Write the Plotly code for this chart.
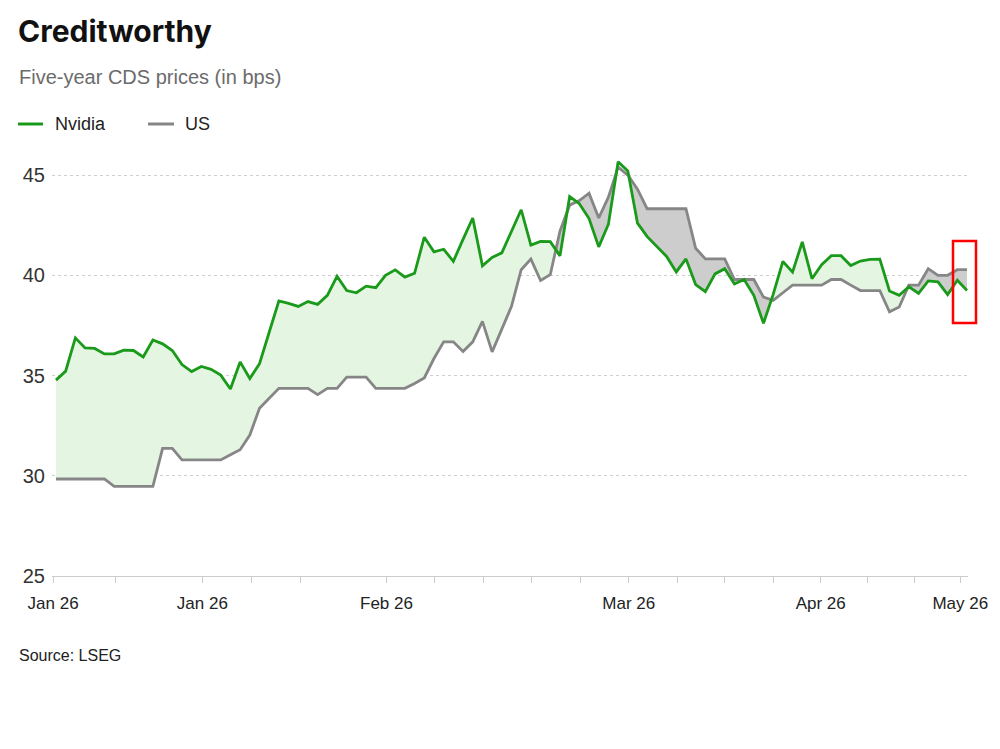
import numpy as np
import plotly.graph_objects as go

# ---- data ----
nvidia = [34.77, 35.22, 36.88, 36.38, 36.35, 36.08, 36.08, 36.27, 36.25, 35.93,
          36.77, 36.58, 36.25, 35.55, 35.20, 35.45, 35.31, 35.02, 34.33, 35.68,
          34.85, 35.59, 37.16, 38.72, 38.60, 38.45, 38.69, 38.55, 39.00, 39.95,
          39.24, 39.13, 39.46, 39.38, 40.00, 40.27, 39.91, 40.10, 41.90, 41.17,
          41.30, 40.70, 41.79, 42.86, 40.47, 40.89, 41.12, 42.17, 43.27, 41.51,
          41.69, 41.68, 40.97, 43.93, 43.57, 42.83, 41.42, 42.55, 45.66, 45.21,
          42.60, 41.93, 41.43, 40.94, 40.17, 40.82, 39.54, 39.18, 40.07, 40.33,
          39.57, 39.79, 39.00, 37.61, 39.05, 40.69, 40.16, 41.67, 39.83, 40.53,
          40.98, 40.98, 40.49, 40.71, 40.79, 40.81, 39.22, 39.00, 39.43, 39.10,
          39.72, 39.67, 39.04, 39.75, 39.24]
us = [29.84, 29.84, 29.84, 29.84, 29.84, 29.84, 29.47, 29.47, 29.47, 29.47,
      29.47, 31.37, 31.37, 30.79, 30.79, 30.79, 30.79, 30.79, 31.05, 31.30,
      32.03, 33.37, 33.87, 34.36, 34.36, 34.36, 34.36, 34.05, 34.36, 34.36,
      34.92, 34.92, 34.92, 34.36, 34.36, 34.36, 34.36, 34.60, 34.88, 35.85,
      36.68, 36.68, 36.20, 36.68, 37.70, 36.18, 37.30, 38.45, 40.28, 40.81,
      39.74, 40.03, 42.20, 43.50, 43.73, 44.10, 42.86, 43.90, 45.40, 45.00,
      44.30, 43.32, 43.32, 43.32, 43.32, 43.32, 41.35, 40.82, 40.82, 40.82,
      39.79, 39.79, 39.79, 38.91, 38.75, 39.13, 39.51, 39.51, 39.51, 39.51,
      39.79, 39.79, 39.51, 39.24, 39.24, 39.24, 38.18, 38.42, 39.51, 39.51,
      40.33, 40.00, 40.00, 40.28, 40.28]
x_index = list(range(len(nvidia)))

tick_positions = [-0.3, 6.1, 15.1, 20.2, 25.2, 34.1, 39.1, 44.1, 49.1, 54.1,
                  59.1, 64.1, 69.0, 74.0, 78.9, 83.7, 88.6, 93.3]
tick_labels = ["Jan 26", "", "Jan 26", "", "", "Feb 26", "", "", "", "",
               "Mar 26", "", "", "", "Apr 26", "", "", "May 26"]
y_ticks = [25, 30, 35, 40, 45]

GREEN = "#1a9a1a"
GRAY = "#868686"
GREEN_FILL = "#e4f6e2"
GRAY_FILL = "#cdcdcd"

# ---- insert crossing points so fills switch cleanly ----
xs, ns, us_ = [], [], []
for i in range(len(nvidia)):
    if i > 0:
        d0 = nvidia[i - 1] - us[i - 1]
        d1 = nvidia[i] - us[i]
        if d0 * d1 < 0:
            t = d0 / (d0 - d1)
            yc = nvidia[i - 1] + t * (nvidia[i] - nvidia[i - 1])
            xs.append(x_index[i - 1] + t)
            ns.append(yc)
            us_.append(yc)
    xs.append(x_index[i])
    ns.append(nvidia[i])
    us_.append(us[i])
ns = np.array(ns)
us_ = np.array(us_)

fig = go.Figure()
# green fill where Nvidia above US
fig.add_trace(go.Scatter(x=xs, y=us_, mode="lines", line=dict(width=0),
                         showlegend=False, hoverinfo="skip"))
fig.add_trace(go.Scatter(x=xs, y=np.maximum(ns, us_), mode="lines", line=dict(width=0),
                         fill="tonexty", fillcolor=GREEN_FILL, showlegend=False,
                         hoverinfo="skip"))
# gray fill where US above Nvidia
fig.add_trace(go.Scatter(x=xs, y=ns, mode="lines", line=dict(width=0),
                         showlegend=False, hoverinfo="skip"))
fig.add_trace(go.Scatter(x=xs, y=np.maximum(ns, us_), mode="lines", line=dict(width=0),
                         fill="tonexty", fillcolor=GRAY_FILL, showlegend=False,
                         hoverinfo="skip"))
fig.add_trace(go.Scatter(x=x_index, y=us, mode="lines", name="US",
                         line=dict(color=GRAY, width=2.8), showlegend=False))
fig.add_trace(go.Scatter(x=x_index, y=nvidia, mode="lines", name="Nvidia",
                         line=dict(color=GREEN, width=2.8), showlegend=False))

W, H = 1000, 749
L, R, T, B = 52, 32, 143, 173
pw, ph = W - L - R, H - T - B


def px(x):
    return (x - L) / pw


def py(y):
    return (H - B - y) / ph


FONT = "Liberation Sans, Arial, sans-serif"
anns = [
    dict(text="<b>Creditworthy</b>", x=px(16), y=py(31), xanchor="left", yanchor="middle",
         font=dict(family="Inter, sans-serif", size=30, color="#111111")),
    dict(text="Five-year CDS prices (in bps)", x=px(17), y=py(77), xanchor="left",
         yanchor="middle", font=dict(family=FONT, size=20, color="#6b6b6b")),
    dict(text="Nvidia", x=px(53), y=py(124), xanchor="left", yanchor="middle",
         font=dict(family=FONT, size=18, color="#222222")),
    dict(text="US", x=px(183), y=py(124), xanchor="left", yanchor="middle",
         font=dict(family=FONT, size=18, color="#222222")),
    dict(text="Source: LSEG", x=px(17), y=py(655), xanchor="left", yanchor="middle",
         font=dict(family=FONT, size=16, color="#222222")),
]
for a in anns:
    a.update(xref="paper", yref="paper", showarrow=False)

shapes = [
    dict(type="line", xref="paper", yref="paper", x0=px(18), x1=px(43), y0=py(124),
         y1=py(124), line=dict(color=GREEN, width=3)),
    dict(type="line", xref="paper", yref="paper", x0=px(148), x1=px(174), y0=py(124),
         y1=py(124), line=dict(color=GRAY, width=3)),
    dict(type="rect", xref="paper", yref="paper", x0=px(953), x1=px(976), y0=py(241),
         y1=py(323), line=dict(color="#ff0000", width=2.5), fillcolor="rgba(0,0,0,0)"),
]

fig.update_layout(
    width=W, height=H,
    margin=dict(l=L, r=R, t=T, b=B, pad=0),
    paper_bgcolor="white", plot_bgcolor="white",
    annotations=anns, shapes=shapes,
    showlegend=False,
    xaxis=dict(range=[-0.41, 94.1], tickmode="array", tickvals=tick_positions,
               ticktext=tick_labels, showgrid=False, zeroline=False,
               showline=True, linecolor="#cccccc", linewidth=1,
               ticks="outside", ticklen=6, tickcolor="#cccccc", ticklabelstandoff=6,
               tickfont=dict(family=FONT, size=17, color="#222222")),
    yaxis=dict(range=[25, 46.6], tickmode="array", tickvals=y_ticks,
               showgrid=True, gridcolor="#cfcfcf", griddash="dot", gridwidth=1,
               zeroline=False, showline=False, ticks="", ticklabelstandoff=6,
               tickfont=dict(family=FONT, size=20, color="#333333")),
)

fig.write_html("out.html")
